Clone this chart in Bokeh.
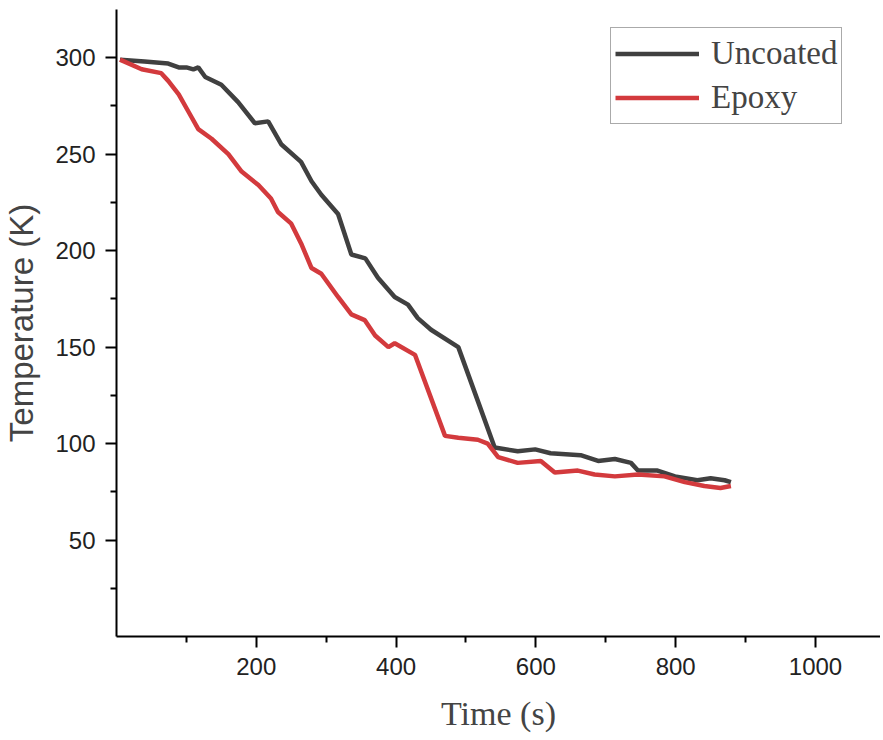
from bokeh.plotting import figure
from bokeh.models import FixedTicker, Range1d
from bokeh.embed import file_html
from bokeh.resources import INLINE

# ---- data ----
uncoated_t = [5, 40, 74, 89, 100, 110, 117, 127, 150, 174, 198, 217, 236, 264, 279, 293,
              317, 336, 356, 374, 398, 417, 431, 450, 489, 517, 541, 574, 599, 621, 664,
              689, 713, 736, 746, 774, 799, 831, 850, 870, 879]
uncoated_T = [299, 298, 297, 295, 295, 294, 295, 290, 286, 277, 266, 267, 255, 246, 236, 229,
              219, 198, 196, 186, 176, 172, 165, 159, 150, 122, 98, 96, 97, 95, 94,
              91, 92, 90, 86, 86, 83, 81, 82, 81, 80]

epoxy_t = [5, 36, 64, 74, 89, 103, 117, 136, 160, 179, 203, 221, 231, 250, 265, 279, 293,
           317, 336, 355, 370, 389, 398, 427, 470, 489, 517, 531, 546, 574, 607, 627,
           660, 684, 713, 746, 784, 813, 841, 864, 879]
epoxy_T = [299, 294, 292, 288, 281, 272, 263, 258, 250, 241, 234, 227, 220, 214, 203, 191, 188,
           176, 167, 164, 156, 150, 152, 146, 104, 103, 102, 100, 93, 90, 91, 85,
           86, 84, 83, 84, 83, 80, 78, 77, 78]

x_major = [200, 400, 600, 800, 1000]
x_minor = [100, 300, 500, 700, 900]
y_major = [50, 100, 150, 200, 250, 300]
y_minor = [25, 75, 125, 175, 225, 275]

SANS = "Liberation Sans"
SERIF = "Liberation Serif"

p = figure(width=880, height=737, output_backend="svg", toolbar_location=None,
           x_range=Range1d(0, 1093), y_range=Range1d(0, 325),
           min_border_left=115, min_border_right=0, min_border_top=9, min_border_bottom=101)

p.outline_line_color = None
p.xgrid.visible = False
p.ygrid.visible = False
p.background_fill_color = "white"

p.line(uncoated_t, uncoated_T, line_color="#404040", line_width=4.5, legend_label="Uncoated")
p.line(epoxy_t, epoxy_T, line_color="#d33a3d", line_width=4.5, legend_label="Epoxy")

for ax in (p.xaxis[0], p.yaxis[0]):
    ax.axis_line_width = 2
    ax.axis_line_color = "black"
    ax.major_tick_line_width = 2
    ax.minor_tick_line_width = 2
    ax.major_tick_line_color = "black"
    ax.minor_tick_line_color = "black"
    ax.major_tick_in = 0
    ax.major_tick_out = 11
    ax.minor_tick_in = 0
    ax.minor_tick_out = 6
    ax.major_label_text_font = SANS
    ax.major_label_text_font_size = "24px"
    ax.major_label_text_color = "#222222"
    ax.major_label_standoff = 10

p.xaxis.ticker = FixedTicker(ticks=x_major, minor_ticks=x_minor)
p.yaxis.ticker = FixedTicker(ticks=y_major, minor_ticks=y_minor)

p.xaxis.axis_label = "Time (s)"
p.xaxis.axis_label_text_font = SERIF
p.xaxis.axis_label_text_font_style = "normal"
p.xaxis.axis_label_text_font_size = "34px"
p.xaxis.axis_label_standoff = 17

p.yaxis.axis_label = "Temperature (K)"
p.yaxis.axis_label_text_font = SANS
p.yaxis.axis_label_text_font_style = "normal"
p.yaxis.axis_label_text_font_size = "33px"
p.yaxis.axis_label_standoff = 12

lg = p.legend[0]
lg.location = (494, 512)
lg.label_text_font = SERIF
lg.label_text_font_size = "33px"
lg.glyph_width = 84
lg.glyph_height = 43
lg.label_height = 43
lg.label_standoff = 12
lg.spacing = 1
lg.padding = 4
lg.margin = 0
lg.border_line_color = "#555555"
lg.border_line_width = 1.5
lg.background_fill_alpha = 1.0

open("out.html", "w").write(file_html(p, INLINE))
